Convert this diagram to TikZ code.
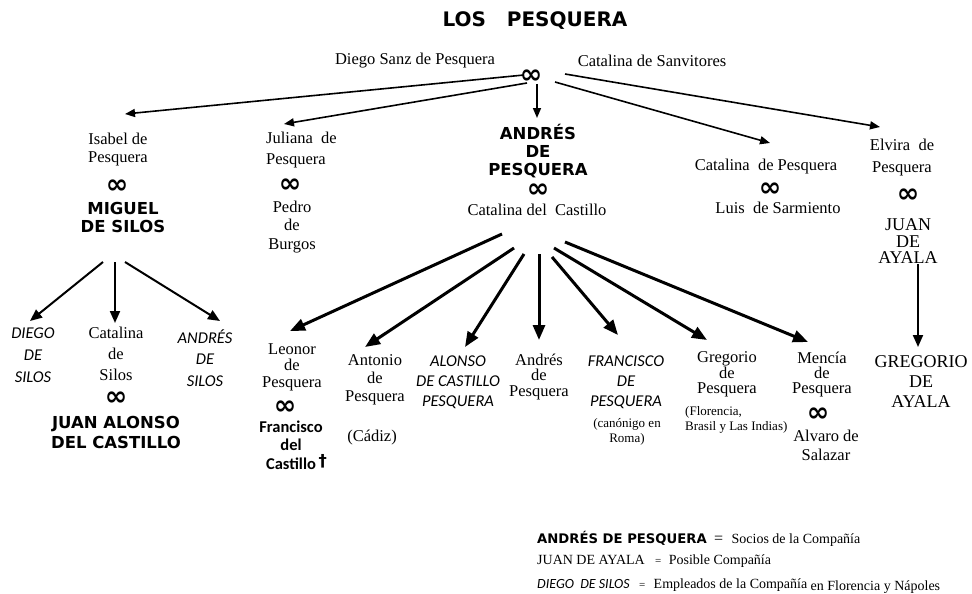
\documentclass[tikz,border=0pt]{standalone}
\usepackage{fontspec}
\setmainfont{Liberation Serif}
\newfontfamily\verdfont{DejaVu Sans}
\newfontfamily\califont{Carlito}
\usetikzlibrary{arrows.meta,positioning}
\tikzset{%
  person/.style   = {align=center, inner sep=0pt, font=\fontsize{16.5}{#1}\selectfont},%
  person/.default = 18,%
  upname/.style   = {align=center, inner sep=0pt, font=\fontsize{18}{#1}\selectfont},%
  upname/.default = 18,%
  bigname/.style  = {align=center, inner sep=0pt, font=\verdfont\bfseries\fontsize{16.5}{#1}\selectfont},%
  bigname/.default= 18,%
  itname/.style   = {align=center, inner sep=0pt, font=\califont\itshape\fontsize{16.5}{#1}\selectfont},%
  itname/.default = 20,%
  bfname/.style   = {align=center, inner sep=0pt, font=\califont\bfseries\fontsize{16.5}{#1}\selectfont},%
  bfname/.default = 18,%
  notetext/.style = {align=center, inner sep=0pt, font=\fontsize{13}{#1}\selectfont},%
  notetext/.default = 15,%
  marr/.style     = {inner sep=0pt, font=\verdfont\bfseries\fontsize{27}{27}\selectfont},%
  titulo/.style   = {inner sep=0pt, font=\verdfont\bfseries\fontsize{20}{24}\selectfont}%
}

\begin{document}
\begin{tikzpicture}[x=1pt,y=-1pt,
	uparr/.style  = {-{Triangle[length=10pt,width=8pt]}, line width=1.6pt},
	sonarr/.style = {-{Triangle[length=12pt,width=10pt]}, line width=2pt},
	fanarr/.style = {-{Triangle[length=15pt,width=12pt]}, line width=3pt},
	legend/.style = {anchor=west, inner sep=0pt}]
\useasboundingbox (0,0) rectangle (972,594);
\node[titulo] (title) at (535,21) {LOS\ \ \ PESQUERA};
% padres
\node[person] (diego)  at (415,61) {Diego Sanz de Pesquera};
\node[marr]   (m0)     at (531,77) {∞};
\node[person] (catsan) at (652,61) {Catalina de Sanvitores};
% hijos
\node[person]   (isabel)  at (118,150) {Isabel de\\Pesquera};
\node[marr]     (m1)      at (117,187) {∞};
\node[bigname]  (miguel)  at (123,217) {MIGUEL\\DE SILOS};
\node[person=21, align=left, anchor=west] (juliana) at (266,150.5) {Juliana\ \ de\\Pesquera};
\node[marr]     (m2)      at (290,186) {∞};
\node[person=18.5] (pedro) at (292,227) {Pedro\\de\\Burgos};
\node[bigname=18] (andres) at (538,151) {ANDRÉS\\DE\\PESQUERA};
\node[marr]     (m3)      at (538,191) {∞};
\node[person]   (catcas)  at (537,210) {Catalina del\ \ Castillo};
\node[person]   (catpes)  at (766,167) {Catalina\ \ de Pesquera};
\node[marr]     (m4)      at (770,190) {∞};
\node[person]   (luis)    at (778,208) {Luis\ \ de Sarmiento};
\node[person=22] (elvira) at (902,158) {Elvira\ \ de\\Pesquera};
\node[marr]     (m8)      at (908,196) {∞};
\node[upname=16.5] (juan) at (908,241.5) {JUAN\\DE\\AYALA};
% nietos
\node[itname=22]  (diegos)  at (33,355)  {DIEGO\\DE\\SILOS};
\node[person=21]  (catsil)  at (116,354) {Catalina\\de\\Silos};
\node[marr]       (m5)      at (116,399) {∞};
\node[bigname=20] (juanal)  at (116,432) {JUAN ALONSO\\DEL CASTILLO};
\node[itname=21.5] (andsil) at (205,358) {ANDRÉS\\DE\\SILOS};
\node[person=16.5] (leonor) at (292,367) {Leonor\\de\\Pesquera};
\node[marr]       (m6)      at (285,408) {∞};
\node[bfname=18.5] (franc)  at (291,445) {Francisco\\del\\Castillo\rlap{\,\raisebox{3pt}{\verdfont\bfseries †}}};
\node[person=18]  (antonio) at (375,380) {Antonio\\de\\Pesquera};
\node[person]     (cadiz)   at (372,438) {(Cádiz)};
\node[itname=20]  (alonso)  at (458,382) {ALONSO\\DE CASTILLO\\PESQUERA};
\node[person=15.5] (andpes) at (539,377) {Andrés\\de\\Pesquera};
\node[itname=20]  (francisco) at (626,382) {FRANCISCO\\DE\\PESQUERA};
\node[notetext]   (canonigo) at (627,432) {(canónigo en\\Roma)};
\node[person=15]  (gregorio) at (727,374) {Gregorio\\de\\Pesquera};
\node[notetext, align=left, anchor=west] (florencia) at (685,420) {(Florencia,\\Brasil y Las Indias)};
\node[person=15]  (mencia)  at (822,375) {Mencía\\de\\Pesquera};
\node[marr]       (m7)      at (818,415) {∞};
\node[person=19]  (alvaro)  at (826,445) {Alvaro de\\Salazar};
\node[upname=20]  (gregay)  at (921,382) {GREGORIO\\DE\\AYALA};
% flechas
\coordinate (p-isabel)  at (524,75);  \coordinate (t-isabel)  at (125,114);
\coordinate (p-juliana) at (527,83);  \coordinate (t-juliana) at (284,124);
\coordinate (p-andres)  at (537,84);  \coordinate (t-andres)  at (537,118);
\coordinate (p-catpes)  at (555,82);  \coordinate (t-catpes)  at (770,143);
\coordinate (p-elvira)  at (565,74);  \coordinate (t-elvira)  at (880,127);
\draw[uparr] (p-isabel) -- (t-isabel);
\draw[uparr] (p-juliana) -- (t-juliana);
\draw[uparr] (p-andres) -- (t-andres);
\draw[uparr] (p-catpes) -- (t-catpes);
\draw[uparr] (p-elvira) -- (t-elvira);
\draw[sonarr] (103,262) -- (30,321);
\draw[sonarr] (115,262) -- (115,323);
\draw[sonarr] (125,262) -- (220,321);
\draw[sonarr] ([xshift=10pt]juan.south) -- (918,347);
\draw[fanarr] (502,234) -- (290,331);
\draw[fanarr] (514,248) -- (365,347);
\draw[fanarr] (524,254) -- (465,347);
\draw[fanarr] (539,254) -- (539,340);
\draw[fanarr] (552,257) -- (618,335);
\draw[fanarr] (554,248) -- (707,340);
\draw[fanarr] (565,242) -- (808,342);
% leyenda
\node[legend, font=\verdfont\bfseries\fontsize{13.2}{15}\selectfont] (leg1) at (537,538) {ANDRÉS DE PESQUERA};
\node[legend, font=\fontsize{16}{16}\selectfont, base right=7pt of leg1] (eq1) {=};
\node[legend, font=\fontsize{14}{16}\selectfont, base right=8pt of eq1] (txt1) {Socios de la Compañía};
\node[legend, font=\fontsize{14}{16}\selectfont] (leg2) at (537,560) {JUAN DE AYALA};
\node[legend, font=\fontsize{11}{12}\selectfont, base right=10pt of leg2] (eq2) {=};
\node[legend, font=\fontsize{14}{16}\selectfont, base right=7pt of eq2] (txt2) {Posible Compañía};
\node[legend, font=\califont\itshape\fontsize{14}{16}\selectfont] (leg3) at (537,584) {DIEGO\ \ DE SILOS};
\node[legend, font=\fontsize{11}{12}\selectfont, base right=9pt of leg3] (eq3) {=};
\node[legend, font=\fontsize{14}{16}\selectfont, base right=8pt of eq3] (txt3) {Empleados de la Compañía};
\node[legend, font=\fontsize{14}{16}\selectfont, base right=3pt of txt3, yshift=-2pt] (txt4) {en Florencia y Nápoles};
\end{tikzpicture}
\end{document}
